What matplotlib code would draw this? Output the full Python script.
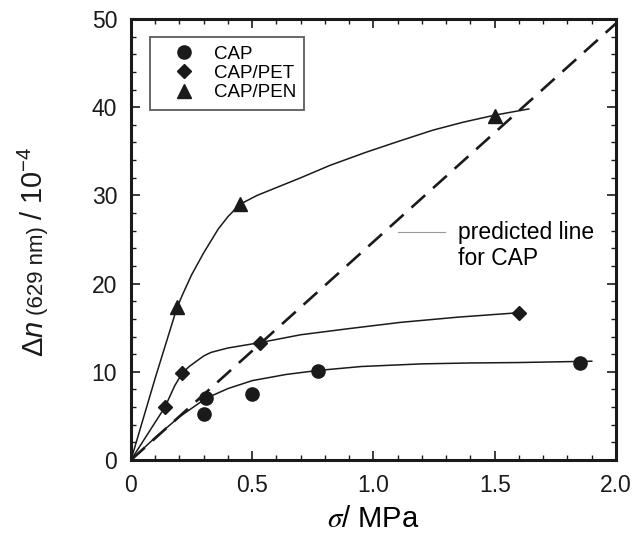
import matplotlib
matplotlib.use("Agg")
import matplotlib.pyplot as plt
from matplotlib.ticker import MultipleLocator

plt.rcParams["font.family"] = ["Liberation Sans", "DejaVu Sans"]
plt.rcParams["mathtext.fontset"] = "custom"
plt.rcParams["mathtext.rm"] = "Liberation Sans"
plt.rcParams["mathtext.it"] = "Liberation Sans:italic"

# measured points
cap_x = [0.30, 0.31, 0.50, 0.77, 1.85]
cap_y = [5.2, 7.0, 7.5, 10.1, 11.0]
pet_x = [0.14, 0.21, 0.53, 1.60]
pet_y = [6.0, 9.9, 13.3, 16.7]
pen_x = [0.19, 0.45, 1.50]
pen_y = [17.3, 29.0, 39.0]

# fitted curves
cap_fit_x = [0, 0.10, 0.20, 0.31, 0.40, 0.50, 0.64, 0.77, 0.95, 1.20, 1.40, 1.60, 1.90]
cap_fit_y = [0, 2.55, 4.9, 7.0, 8.1, 9.0, 9.7, 10.15, 10.6, 10.9, 11.0, 11.05, 11.2]
pet_fit_x = [0, 0.07, 0.14, 0.18, 0.21, 0.24, 0.27, 0.30, 0.33, 0.40, 0.53, 0.70, 0.90, 1.11, 1.35, 1.60]
pet_fit_y = [0, 3.0, 6.0, 8.4, 9.8, 10.6, 11.2, 11.8, 12.2, 12.7, 13.3, 14.2, 14.9, 15.6, 16.2, 16.7]
pen_fit_x = [0, 0.10, 0.19, 0.215, 0.25, 0.30, 0.36, 0.40, 0.45, 0.52, 0.61, 0.70, 0.82, 0.97, 1.10, 1.245, 1.37, 1.50, 1.64]
pen_fit_y = [0, 9.3, 17.3, 18.9, 21.0, 23.5, 26.2, 27.6, 29.0, 30.0, 31.0, 32.0, 33.4, 34.9, 36.1, 37.4, 38.3, 39.1, 39.8]

# predicted line for CAP
pred_x = [0, 2.0]
pred_y = [0, 49.5]

fig = plt.figure(figsize=(6.39, 5.37), dpi=100)
ax = fig.add_axes([0.205, 0.1434, 0.759, 0.8212])

ax.plot(pred_x, pred_y, color="#1a1a1a", lw=1.9, linestyle=(0, (7, 4)))
ax.plot(cap_fit_x, cap_fit_y, color="#1a1a1a", lw=1.1)
ax.plot(pet_fit_x, pet_fit_y, color="#1a1a1a", lw=1.1)
ax.plot(pen_fit_x, pen_fit_y, color="#1a1a1a", lw=1.1)

ax.plot(cap_x, cap_y, "o", color="#1a1a1a", ms=9.5, ls="none", label="CAP")
ax.plot(pet_x, pet_y, "D", color="#1a1a1a", ms=7, ls="none", label="CAP/PET")
ax.plot(pen_x, pen_y, "^", color="#1a1a1a", ms=9.5, ls="none", label="CAP/PEN")

leg = ax.legend(loc="upper left", bbox_to_anchor=(0.039, 0.959), borderaxespad=0,
                fontsize=13.5, frameon=True, fancybox=False, borderpad=0.45,
                handlelength=2.7, handletextpad=0.25, labelspacing=0.12)
leg.get_frame().set_edgecolor("#333333")
leg.get_frame().set_linewidth(1.3)

# annotation for the dashed line
ax.plot([1.10, 1.295], [25.9, 25.9], color="#999999", lw=0.8)
ax.text(1.35, 24.3, "predicted line\nfor CAP", fontsize=16.5, va="center", ha="left",
        linespacing=1.15)

ax.set_xlim(0, 2.0)
ax.set_ylim(0, 50)
ax.xaxis.set_major_locator(MultipleLocator(0.5))
ax.xaxis.set_minor_locator(MultipleLocator(0.1))
ax.yaxis.set_major_locator(MultipleLocator(10))
ax.yaxis.set_minor_locator(MultipleLocator(2))
ax.xaxis.set_major_formatter(plt.FuncFormatter(lambda v, p: "0" if v == 0 else f"{v:.1f}"))

ax.tick_params(which="both", direction="in", top=True, right=True, colors="#1a1a1a")
ax.tick_params(which="major", length=6.5, width=1.2, labelsize=16.5, pad=10)
ax.tick_params(which="minor", length=3.5, width=1.0)
for s in ax.spines.values():
    s.set_linewidth(2.2)
    s.set_color("#1a1a1a")

ax.set_xlabel(r"$\sigma$/ MPa", fontsize=21, labelpad=6, math_fontfamily="stix")

# y label built from pieces of different sizes
renderer = fig.canvas.get_renderer()
H = fig.bbox.height
bx = 43 / 639
y = 1 - 357 / 537
pieces = [("Δ$n$", 21), ("(629 nm)", 16), ("/ 10$^{-4}$", 21)]
for txt, fs in pieces:
    t = fig.text(bx, y, txt, rotation=90, rotation_mode="anchor", ha="left",
                 va="baseline", fontsize=fs, color="#1a1a1a")
    bb = t.get_window_extent(renderer)
    y = bb.y1 / H + 6 / 537

fig.savefig("out.png", dpi=100)
